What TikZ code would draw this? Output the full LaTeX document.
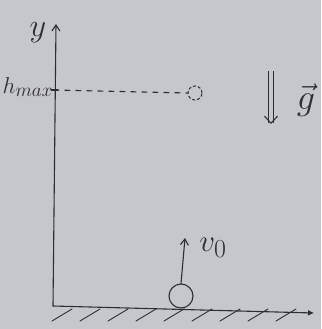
\documentclass[tikz,border=0pt]{standalone}
\usetikzlibrary{arrows.meta}
\definecolor{paper}{RGB}{198,199,204}
\definecolor{ink}{RGB}{45,45,52}
\begin{document}
\begin{tikzpicture}[x=1pt,y=-1pt,
  inkline/.style={draw=ink,line width=1.1pt,line cap=round},
  lbl/.style={text=ink,inner sep=0pt,font=\Huge}]
\fill[paper] (0,0) rectangle (321,329);
\useasboundingbox (0,0) rectangle (321,329);
% axes
\coordinate (O) at (53,306);
\coordinate (Ytop) at (56,24);
\coordinate (Xend) at (314,313);
\draw[inkline,-{Straight Barb[length=6pt,width=8pt]}] (O) -- (Ytop);
\draw[inkline,-{Latex[length=6pt,width=6pt]}] (O) -- (Xend);
\node[lbl,scale=1.3] (ylab) at (38,33) {$y$};
% ground hatching
\foreach \x in {72,100,128,156,184,212,240,268,296}
  \draw[inkline,line width=0.9pt] (\x,309) -- (\x-20,321);
% h_max
\coordinate (H) at (54,90);
\node[lbl,scale=0.92,anchor=east] (hlab) at (53,87) {$h_{\scriptstyle max}$};
\draw[inkline] (51,90) -- (58,90);
\node[draw=ink,densely dashed,line width=1pt,circle,minimum size=14pt,inner sep=0pt] (top) at (195,93) {};
\draw[inkline,dash pattern=on 5pt off 6pt] (H) -- (top.west);
% gravity
\coordinate (g1) at (271,71);
\coordinate (g2) at (271,124);
\draw[ink,line width=1.1pt,-{Straight Barb[length=7pt,width=13pt]},double=paper,double distance=4pt] (g1) -- (g2);
\node[lbl,scale=1.45] (glab) at (306,100) {$\vec{g}$};
% ball
\node[draw=ink,line width=1.1pt,circle,minimum size=24pt,inner sep=0pt] (ball) at (181,296) {};
\coordinate (vtop) at (185,238);
\draw[inkline,-{Straight Barb[length=6pt,width=8pt]}] (ball.north) -- (vtop);
\node[lbl,scale=1.25] (vlab) at (213,248) {$v_0$};
\end{tikzpicture}
\end{document}
